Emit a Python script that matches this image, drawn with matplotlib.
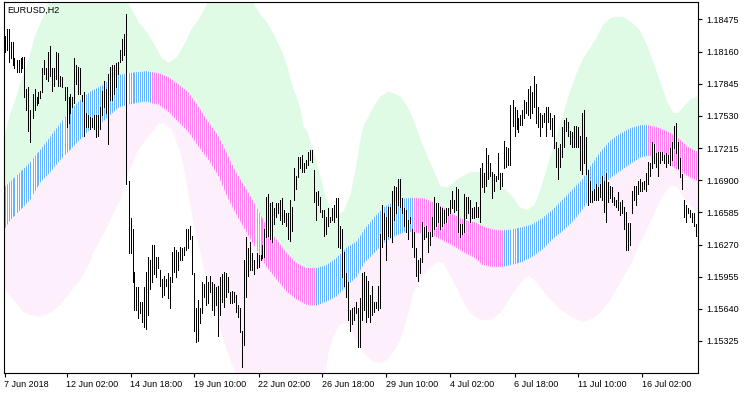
import numpy as np
import matplotlib
matplotlib.use("Agg")
import matplotlib.pyplot as plt
from matplotlib.path import Path

# EURUSD H2 bars, 7 Jun 2018 12:00 .. 17 Jul 2018
bar_high = [
    1.1831, 1.1838, 1.1838, 1.1825, 1.1825, 1.1810, 1.1808, 1.1808, 1.1810, 1.1811,
    1.1811, 1.1779, 1.1781, 1.1759, 1.1774, 1.1779, 1.1772, 1.1776, 1.1777, 1.1800,
    1.1808, 1.1800, 1.1816, 1.1821, 1.1800, 1.1800, 1.1816, 1.1815, 1.1792, 1.1791,
    1.1781, 1.1781, 1.1772, 1.1774, 1.1772, 1.1810, 1.1803, 1.1801, 1.1800, 1.1773,
    1.1776, 1.1756, 1.1754, 1.1752, 1.1751, 1.1754, 1.1754, 1.1754, 1.1762, 1.1777,
    1.1787, 1.1779, 1.1794, 1.1801, 1.1803, 1.1803, 1.1805, 1.1806, 1.1818, 1.1828,
    1.1833, 1.1853, 1.1689, 1.1653, 1.1642, 1.1600, 1.1585, 1.1585, 1.1571, 1.1571,
    1.1585, 1.1600, 1.1615, 1.1612, 1.1627, 1.1627, 1.1615, 1.1615, 1.1602, 1.1593,
    1.1596, 1.1593, 1.1599, 1.1595, 1.1620, 1.1625, 1.1622, 1.1620, 1.1625, 1.1624,
    1.1625, 1.1642, 1.1642, 1.1645, 1.1635, 1.1599, 1.1565, 1.1573, 1.1565, 1.1590,
    1.1588, 1.1596, 1.1590, 1.1596, 1.1590, 1.1588, 1.1585, 1.1586, 1.1595, 1.1598,
    1.1600, 1.1599, 1.1595, 1.1580, 1.1581, 1.1580, 1.1578, 1.1568, 1.1565, 1.1542,
    1.1612, 1.1634, 1.1624, 1.1629, 1.1619, 1.1612, 1.1619, 1.1617, 1.1617, 1.1627,
    1.1642, 1.1674, 1.1676, 1.1668, 1.1669, 1.1663, 1.1668, 1.1668, 1.1671, 1.1673,
    1.1661, 1.1658, 1.1658, 1.1671, 1.1664, 1.1702, 1.1694, 1.1713, 1.1713, 1.1715,
    1.1707, 1.1710, 1.1718, 1.1720, 1.1720, 1.1700, 1.1678, 1.1679, 1.1674, 1.1661,
    1.1661, 1.1654, 1.1663, 1.1654, 1.1663, 1.1666, 1.1673, 1.1673, 1.1645, 1.1642,
    1.1620, 1.1599, 1.1590, 1.1563, 1.1565, 1.1566, 1.1571, 1.1565, 1.1575, 1.1599,
    1.1600, 1.1596, 1.1591, 1.1578, 1.1586, 1.1571, 1.1571, 1.1586, 1.1637, 1.1666,
    1.1658, 1.1654, 1.1664, 1.1664, 1.1679, 1.1684, 1.1683, 1.1691, 1.1691, 1.1673,
    1.1663, 1.1661, 1.1651, 1.1654, 1.1642, 1.1639, 1.1624, 1.1612, 1.1614, 1.1649,
    1.1644, 1.1645, 1.1639, 1.1639, 1.1654, 1.1674, 1.1668, 1.1668, 1.1664, 1.1663,
    1.1661, 1.1663, 1.1663, 1.1671, 1.1679, 1.1671, 1.1683, 1.1681, 1.1647, 1.1647,
    1.1676, 1.1674, 1.1674, 1.1671, 1.1663, 1.1664, 1.1669, 1.1664, 1.1702, 1.1707,
    1.1697, 1.1722, 1.1715, 1.1707, 1.1698, 1.1696, 1.1694, 1.1717, 1.1697, 1.1697,
    1.1728, 1.1723, 1.1722, 1.1764, 1.1769, 1.1762, 1.1759, 1.1751, 1.1754, 1.1759,
    1.1769, 1.1767, 1.1779, 1.1782, 1.1776, 1.1792, 1.1784, 1.1762, 1.1756, 1.1754,
    1.1756, 1.1762, 1.1762, 1.1756, 1.1751, 1.1754, 1.1727, 1.1722, 1.1725, 1.1742,
    1.1749, 1.1751, 1.1747, 1.1738, 1.1737, 1.1743, 1.1743, 1.1742, 1.1733, 1.1756,
    1.1759, 1.1732, 1.1700, 1.1689, 1.1679, 1.1681, 1.1686, 1.1683, 1.1686, 1.1694,
    1.1689, 1.1697, 1.1688, 1.1684, 1.1683, 1.1674, 1.1671, 1.1678, 1.1669, 1.1671,
    1.1664, 1.1659, 1.1648, 1.1648, 1.1679, 1.1684, 1.1684, 1.1689, 1.1691, 1.1688,
    1.1689, 1.1697, 1.1708, 1.1707, 1.1727, 1.1725, 1.1717, 1.1718, 1.1718, 1.1718,
    1.1715, 1.1717, 1.1715, 1.1722, 1.1727, 1.1743, 1.1746, 1.1727, 1.1712, 1.1696,
    1.1671, 1.1666, 1.1663, 1.1661, 1.1658, 1.1658, 1.1647,
]
bar_low = [
    1.1816, 1.1818, 1.1806, 1.1810, 1.1803, 1.1800, 1.1796, 1.1796, 1.1796, 1.1800,
    1.1772, 1.1759, 1.1738, 1.1727, 1.1751, 1.1759, 1.1764, 1.1766, 1.1771, 1.1776,
    1.1794, 1.1789, 1.1787, 1.1792, 1.1777, 1.1782, 1.1789, 1.1782, 1.1782, 1.1781,
    1.1769, 1.1742, 1.1746, 1.1756, 1.1762, 1.1766, 1.1784, 1.1774, 1.1774, 1.1768,
    1.1733, 1.1742, 1.1742, 1.1740, 1.1742, 1.1740, 1.1732, 1.1733, 1.1740, 1.1754,
    1.1762, 1.1756, 1.1725, 1.1769, 1.1769, 1.1774, 1.1781, 1.1794, 1.1806, 1.1808,
    1.1813, 1.1686, 1.1619, 1.1619, 1.1590, 1.1563, 1.1563, 1.1555, 1.1560, 1.1551,
    1.1546, 1.1544, 1.1558, 1.1583, 1.1590, 1.1598, 1.1595, 1.1604, 1.1586, 1.1576,
    1.1578, 1.1586, 1.1575, 1.1565, 1.1590, 1.1600, 1.1595, 1.1602, 1.1612, 1.1612,
    1.1617, 1.1622, 1.1624, 1.1632, 1.1598, 1.1542, 1.1531, 1.1532, 1.1550, 1.1560,
    1.1576, 1.1568, 1.1570, 1.1580, 1.1563, 1.1558, 1.1568, 1.1537, 1.1558, 1.1571,
    1.1566, 1.1576, 1.1580, 1.1570, 1.1570, 1.1571, 1.1561, 1.1556, 1.1541, 1.1507,
    1.1529, 1.1576, 1.1596, 1.1602, 1.1602, 1.1598, 1.1604, 1.1605, 1.1612, 1.1614,
    1.1615, 1.1634, 1.1635, 1.1632, 1.1629, 1.1647, 1.1654, 1.1658, 1.1651, 1.1647,
    1.1649, 1.1645, 1.1632, 1.1630, 1.1640, 1.1671, 1.1681, 1.1693, 1.1702, 1.1698,
    1.1698, 1.1702, 1.1705, 1.1710, 1.1708, 1.1669, 1.1651, 1.1666, 1.1659, 1.1654,
    1.1635, 1.1637, 1.1645, 1.1649, 1.1651, 1.1649, 1.1654, 1.1625, 1.1624, 1.1595,
    1.1586, 1.1576, 1.1553, 1.1542, 1.1549, 1.1553, 1.1560, 1.1527, 1.1527, 1.1553,
    1.1563, 1.1551, 1.1556, 1.1551, 1.1558, 1.1561, 1.1565, 1.1563, 1.1565, 1.1625,
    1.1632, 1.1612, 1.1635, 1.1634, 1.1629, 1.1651, 1.1658, 1.1666, 1.1664, 1.1658,
    1.1645, 1.1639, 1.1632, 1.1648, 1.1625, 1.1615, 1.1596, 1.1591, 1.1599, 1.1610,
    1.1632, 1.1634, 1.1620, 1.1627, 1.1635, 1.1642, 1.1645, 1.1649, 1.1642, 1.1645,
    1.1648, 1.1649, 1.1656, 1.1658, 1.1663, 1.1659, 1.1661, 1.1639, 1.1634, 1.1637,
    1.1639, 1.1653, 1.1658, 1.1649, 1.1653, 1.1653, 1.1654, 1.1654, 1.1649, 1.1683,
    1.1678, 1.1684, 1.1691, 1.1694, 1.1673, 1.1679, 1.1689, 1.1691, 1.1681, 1.1684,
    1.1702, 1.1703, 1.1705, 1.1705, 1.1743, 1.1733, 1.1740, 1.1737, 1.1744, 1.1744,
    1.1751, 1.1756, 1.1754, 1.1751, 1.1756, 1.1762, 1.1746, 1.1742, 1.1733, 1.1742,
    1.1747, 1.1733, 1.1747, 1.1740, 1.1733, 1.1722, 1.1703, 1.1691, 1.1703, 1.1713,
    1.1723, 1.1738, 1.1733, 1.1725, 1.1723, 1.1723, 1.1723, 1.1723, 1.1700, 1.1696,
    1.1707, 1.1696, 1.1666, 1.1669, 1.1669, 1.1671, 1.1671, 1.1671, 1.1674, 1.1671,
    1.1659, 1.1649, 1.1669, 1.1673, 1.1669, 1.1666, 1.1664, 1.1661, 1.1656, 1.1658,
    1.1642, 1.1622, 1.1622, 1.1627, 1.1658, 1.1671, 1.1666, 1.1676, 1.1679, 1.1679,
    1.1681, 1.1679, 1.1686, 1.1694, 1.1702, 1.1707, 1.1703, 1.1694, 1.1707, 1.1710,
    1.1707, 1.1703, 1.1707, 1.1705, 1.1710, 1.1722, 1.1717, 1.1702, 1.1693, 1.1681,
    1.1654, 1.1649, 1.1658, 1.1654, 1.1649, 1.1645, 1.1635,
]

# upper envelope (bar number, price)
upper_x = [0, 3, 6, 8, 10, 13, 15, 18, 20, 21, 28, 43, 53, 59, 61.5, 67, 72, 75.5, 78.5, 82,
           86, 90.5, 93.5, 98, 101, 103.5, 113, 123, 125.5, 128, 131.5, 134, 136.5, 139, 141.5,
           143, 144.5, 146.5, 148, 149.5, 151.5, 153, 155.5, 158, 160.5, 163, 166.5, 169.5, 173,
           175.5, 178, 179.5, 182, 184.5, 188, 192, 198, 201.5, 204.5, 208, 211.5, 214.5, 218,
           221.5, 226.5, 233, 244, 249, 254, 258, 261.5, 265, 267.5, 270, 272.5, 275.5, 279,
           282.5, 285.5, 289, 293, 296.5, 299.5, 303, 306.5, 309.5, 314.5, 318, 321.5, 324.5,
           328, 331.5, 334.5, 337, 339.5, 343, 346.5]
upper = [1.1733, 1.1756, 1.1772, 1.1786, 1.1796, 1.1815, 1.1830, 1.1844, 1.1852, 1.1860,
         1.1887, 1.1907, 1.1897, 1.1877, 1.1865, 1.1845, 1.1833, 1.1821, 1.1810, 1.1805,
         1.1810, 1.1825, 1.1838, 1.1850, 1.1862, 1.1869, 1.1882, 1.1872, 1.1860, 1.1852,
         1.1844, 1.1835, 1.1825, 1.1815, 1.1801, 1.1789, 1.1779, 1.1769, 1.1759, 1.1743,
         1.1737, 1.1727, 1.1713, 1.1694, 1.1674, 1.1663, 1.1657, 1.1659, 1.1676, 1.1700,
         1.1730, 1.1743, 1.1752, 1.1762, 1.1772, 1.1777, 1.1772, 1.1762, 1.1749, 1.1730,
         1.1713, 1.1700, 1.1684, 1.1683, 1.1691, 1.1698, 1.1698, 1.1684, 1.1674, 1.1663,
         1.1661, 1.1666, 1.1678, 1.1694, 1.1710, 1.1730, 1.1752, 1.1776, 1.1792, 1.1808,
         1.1820, 1.1831, 1.1843, 1.1849, 1.1850, 1.1850, 1.1843, 1.1836, 1.1821, 1.1805,
         1.1786, 1.1766, 1.1756, 1.1756, 1.1762, 1.1769, 1.1772]

# middle channel (top and bottom edge)
band_x = [0, 3, 8, 13, 18, 23, 28, 33, 38, 43, 48, 53, 57, 62, 67, 70.5, 77, 82, 87, 92,
          97, 102, 107, 112, 116, 121, 126, 131, 136, 141, 146, 151, 156, 161, 166, 171, 176,
          180, 185, 190, 195, 200, 205, 210, 215, 220, 225, 230, 235, 239, 244, 249, 254, 259,
          264, 269, 274, 279, 284, 289, 293, 298, 303, 308, 313, 318, 322, 326.5, 331.5,
          336.5, 341.5, 346.5]
mid_top = [1.1683, 1.1689, 1.1698, 1.1708, 1.1720, 1.1733, 1.1746, 1.1759, 1.1769, 1.1777,
           1.1782, 1.1789, 1.1793, 1.1795, 1.1796, 1.1797, 1.1795, 1.1791, 1.1784, 1.1776,
           1.1762, 1.1747, 1.1733, 1.1713, 1.1697, 1.1681, 1.1664, 1.1645, 1.1632, 1.1619,
           1.1609, 1.1604, 1.1604, 1.1607, 1.1614, 1.1624, 1.1630, 1.1642, 1.1654, 1.1664,
           1.1669, 1.1672, 1.1673, 1.1672, 1.1668, 1.1663, 1.1656, 1.1651, 1.1649, 1.1645,
           1.1642, 1.1641, 1.1642, 1.1644, 1.1647, 1.1653, 1.1661, 1.1671, 1.1681, 1.1691,
           1.1704, 1.1718, 1.1729, 1.1736, 1.1741, 1.1744, 1.1744, 1.1742, 1.1738, 1.1732,
           1.1723, 1.1718]
mid_bot = [1.1642, 1.1651, 1.1661, 1.1671, 1.1688, 1.1698, 1.1710, 1.1720, 1.1730, 1.1740,
           1.1745, 1.1754, 1.1761, 1.1764, 1.1766, 1.1767, 1.1764, 1.1757, 1.1747, 1.1737,
           1.1723, 1.1710, 1.1694, 1.1671, 1.1656, 1.1639, 1.1622, 1.1605, 1.1593, 1.1581,
           1.1573, 1.1568, 1.1567, 1.1571, 1.1576, 1.1586, 1.1595, 1.1609, 1.1619, 1.1629,
           1.1635, 1.1639, 1.1639, 1.1637, 1.1635, 1.1630, 1.1625, 1.1619, 1.1614, 1.1607,
           1.1605, 1.1605, 1.1607, 1.1610, 1.1615, 1.1622, 1.1632, 1.1640, 1.1649, 1.1661,
           1.1673, 1.1683, 1.1692, 1.1699, 1.1706, 1.1712, 1.1714, 1.1712, 1.1707, 1.1700,
           1.1694, 1.1689]

# lower envelope
lower_x = [0, 1.5, 5.5, 9.5, 13, 18, 23, 28, 33, 38, 41.5, 44.5, 48, 51.5, 54.5, 58, 62, 67,
           72, 77, 79.5, 83.5, 88, 90.5, 93, 95.5, 98, 100.5, 103.5, 107, 110.5, 113.5, 115.5,
           123, 138, 153, 158, 160.5, 162, 164.5, 168, 170.5, 173, 175.5, 178, 181.5, 184.5,
           188, 191.5, 194.5, 198, 201.5, 204.5, 208, 211.5, 216.5, 219.5, 223, 226.5, 229.5,
           233, 238, 243, 248, 254.5, 259.5, 262, 264.5, 271.5, 278, 284.5, 289.5, 294.5, 298,
           303, 308, 313, 318, 323, 328, 333, 336.5, 339.5, 343, 346.5]
lower = [1.1583, 1.1580, 1.1570, 1.1561, 1.1558, 1.1556, 1.1560, 1.1568, 1.1580, 1.1593,
         1.1605, 1.1619, 1.1632, 1.1645, 1.1658, 1.1671, 1.1697, 1.1720, 1.1733, 1.1745,
         1.1746, 1.1740, 1.1717, 1.1694, 1.1664, 1.1639, 1.1619, 1.1596, 1.1573, 1.1550,
         1.1527, 1.1511, 1.1502, 1.1480, 1.1475, 1.1485, 1.1497, 1.1502, 1.1521, 1.1537,
         1.1549, 1.1550, 1.1546, 1.1534, 1.1524, 1.1517, 1.1512, 1.1511, 1.1514, 1.1522,
         1.1534, 1.1556, 1.1580, 1.1593, 1.1602, 1.1610, 1.1609, 1.1596, 1.1583, 1.1570,
         1.1560, 1.1553, 1.1553, 1.1560, 1.1580, 1.1593, 1.1596, 1.1593, 1.1576, 1.1563,
         1.1555, 1.1551, 1.1555, 1.1560, 1.1573, 1.1590, 1.1607, 1.1629, 1.1649, 1.1671,
         1.1685, 1.1683, 1.1673, 1.1665, 1.1658]

# trend of the middle channel: first bar of each run and its direction
trend_start = [0, 74, 156, 205, 250, 322]
trend_up = [True, False, True, False, True, False]

time_ticks = [0, 31, 63, 95, 127, 159, 191, 223, 255, 287, 319]
time_labels = ["7 Jun 2018", "12 Jun 02:00", "14 Jun 18:00", "19 Jun 10:00",
               "22 Jun 02:00", "26 Jun 18:00", "29 Jun 10:00", "4 Jul 02:00",
               "6 Jul 18:00", "11 Jul 10:00", "16 Jul 02:00"]
price_ticks = [1.15325, 1.15640, 1.15955, 1.16270, 1.16585, 1.16900,
               1.17215, 1.17530, 1.17845, 1.18160, 1.18475]

green_fill = "#dffbe6"
pink_fill = "#fdf0fc"
up_col = "#66b4ff"
down_col = "#ff7ff0"

plt.rcParams["font.family"] = ["Liberation Sans", "DejaVu Sans"]

fig = plt.figure(figsize=(7.5, 3.94), dpi=100)
ax = fig.add_axes([3.5 / 750, 21 / 394, 694 / 750, 371 / 394])

n = len(bar_high)
bars = np.arange(n)
ylo, yhi = 1.15011, 1.18646
px = 72 / 100  # one pixel in points

# envelope fills
ax.fill(np.r_[upper_x, band_x[::-1]], np.r_[upper, mid_top[::-1]],
        color=green_fill, lw=0, zorder=1)
ax.fill(np.r_[band_x, lower_x[::-1]], np.r_[mid_bot, lower[::-1]],
        color=pink_fill, lw=0, zorder=1)

# middle channel as coloured histogram, clipped to the channel outline
bar_cols = []
for k in bars:
    run = np.searchsorted(trend_start, k, side="right") - 1
    bar_cols.append(up_col if trend_up[run] else down_col)
stripes = ax.vlines(bars, ylo - 0.01, yhi + 0.01, colors=bar_cols,
                    lw=px, antialiased=False, zorder=2)
outline = Path(np.column_stack([np.r_[band_x, band_x[::-1]],
                                np.r_[mid_top, mid_bot[::-1]]]))
stripes.set_clip_path(outline, ax.transData)

# price bars
ax.vlines(bars, bar_low, bar_high, colors="black", lw=px,
          antialiased=False, zorder=3)

ax.set_xlim(-0.5, n - 0.5)
ax.set_ylim(ylo, yhi)

ax.yaxis.tick_right()
ax.set_yticks(price_ticks)
ax.set_yticklabels([f"{p:.5f}" for p in price_ticks])
ax.set_xticks(time_ticks)
ax.set_xticklabels(time_labels, ha="left")
ax.tick_params(axis="both", direction="out", length=3, width=0.8,
               labelsize=6.5, colors="black", pad=2)
ax.tick_params(axis="y", pad=3)

for s in ax.spines.values():
    s.set_color("black")
    s.set_linewidth(0.8)

ax.text(0.005, 0.99, "EURUSD,H2", transform=ax.transAxes, ha="left", va="top",
        fontsize=6.5, color="black", zorder=5)

fig.savefig("out.png", dpi=100, facecolor="white")
